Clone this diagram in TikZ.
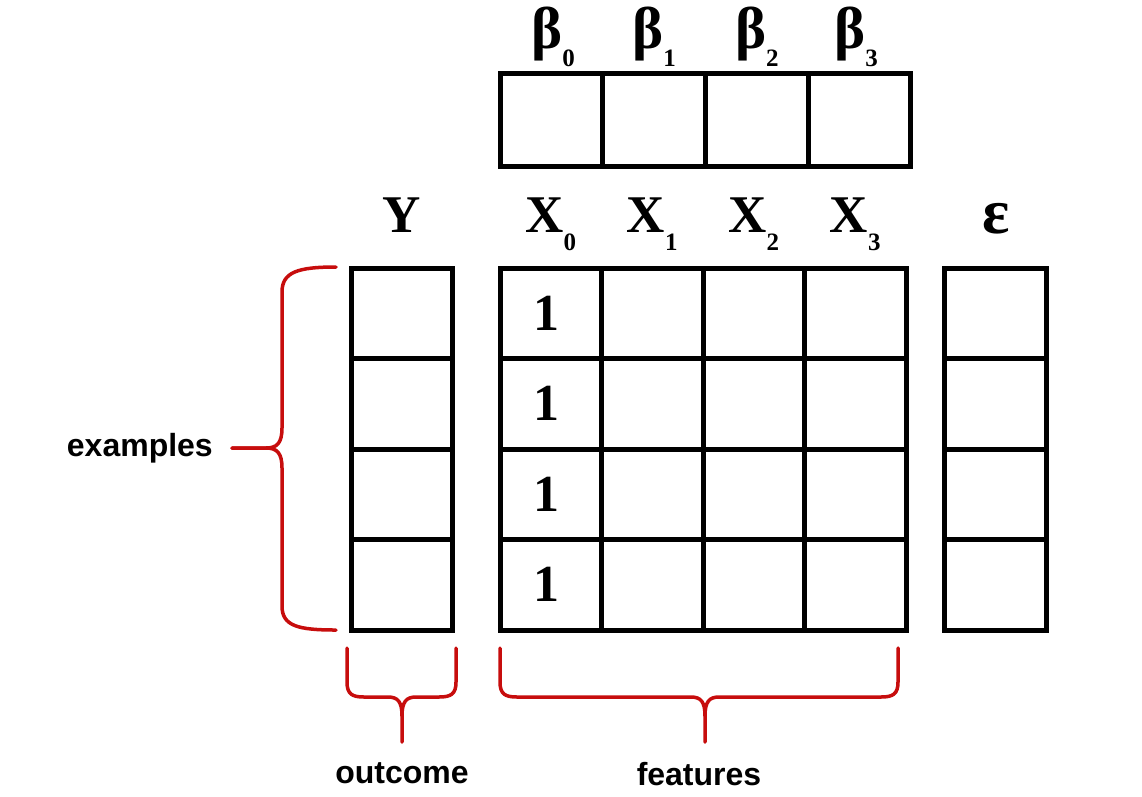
\documentclass[tikz,border=0pt]{standalone}
\usepackage{fontspec}
\setmainfont{Liberation Serif}
\setsansfont{Liberation Sans}
\usetikzlibrary{positioning}
\newcommand{\lowsub}[1]{\raisebox{-18pt}{\fontsize{25}{25}\selectfont #1}}

\begin{document}
\begin{tikzpicture}[x=1pt,y=-1pt,
  cell/.style={draw,line width=5pt,minimum width=101.5pt,minimum height=90.5pt,
    inner sep=0pt,outer sep=0pt,font=\bfseries\fontsize{52}{52}\selectfont},
  bcell/.style={cell,minimum width=102.75pt,minimum height=93pt},
  hdr/.style={anchor=base,inner sep=0pt,font=\bfseries\fontsize{53}{53}\selectfont},
  lbl/.style={inner sep=0pt,font=\sffamily\bfseries\fontsize{32}{32}\selectfont},
  brace/.style={draw=cbr,line width=3.5pt,line cap=round,line join=round}]
%
\useasboundingbox (0,0) rectangle (1142,796);
\fill[white] (0,0) rectangle (1142,796);
%
\definecolor{cbr}{rgb}{0.78,0.05,0.05}
%
% coefficients
\node[bcell] (b0) at (551.4,119.5) {};
\node[bcell] (b1) at (654.1,119.5) {};
\node[bcell] (b2) at (756.9,119.5) {};
\node[bcell] (b3) at (859.6,119.5) {};
\node[hdr,font=\bfseries\fontsize{59}{59}\selectfont] (lb0) at (553,48) {β\lowsub{0}};
\node[hdr,font=\bfseries\fontsize{59}{59}\selectfont] (lb1) at (654.1,48) {β\lowsub{1}};
\node[hdr,font=\bfseries\fontsize{59}{59}\selectfont] (lb2) at (756.9,48) {β\lowsub{2}};
\node[hdr,font=\bfseries\fontsize{59}{59}\selectfont] (lb3) at (856,48) {β\lowsub{3}};
%
% outcome column
\node[cell] (y0) at (402,313.25) {};
\node[cell] (y1) at (402,403.75) {};
\node[cell] (y2) at (402,494.25) {};
\node[cell] (y3) at (402,584.75) {};
\node[hdr] (ly) at (402,232) {Y};
%
% feature matrix
\node[cell] (x00) at (550.75,313.25) {\hspace*{-8pt}1};
\node[cell] (x01) at (652.25,313.25) {};
\node[cell] (x02) at (753.75,313.25) {};
\node[cell] (x03) at (855.25,313.25) {};
\node[cell] (x10) at (550.75,403.75) {\hspace*{-8pt}1};
\node[cell] (x11) at (652.25,403.75) {};
\node[cell] (x12) at (753.75,403.75) {};
\node[cell] (x13) at (855.25,403.75) {};
\node[cell] (x20) at (550.75,494.25) {\hspace*{-8pt}1};
\node[cell] (x21) at (652.25,494.25) {};
\node[cell] (x22) at (753.75,494.25) {};
\node[cell] (x23) at (855.25,494.25) {};
\node[cell] (x30) at (550.75,584.75) {\hspace*{-8pt}1};
\node[cell] (x31) at (652.25,584.75) {};
\node[cell] (x32) at (753.75,584.75) {};
\node[cell] (x33) at (855.25,584.75) {};
\node[hdr] (lx0) at (550.75,232) {X\lowsub{0}};
\node[hdr] (lx1) at (652.25,232) {X\lowsub{1}};
\node[hdr] (lx2) at (753.75,232) {X\lowsub{2}};
\node[hdr] (lx3) at (855.25,232) {X\lowsub{3}};
%
% error column
\node[cell] (e0) at (995.5,313.25) {};
\node[cell] (e1) at (995.5,403.75) {};
\node[cell] (e2) at (995.5,494.25) {};
\node[cell] (e3) at (995.5,584.75) {};
\node[hdr,font=\bfseries\fontsize{64}{64}\selectfont] (le) at (996,233) {ε};
%
% braces
\coordinate (ex) at (232,448);
\coordinate (oc) at (402,742);
\coordinate (fc) at (705,742);
\node[lbl,left=19pt of ex] (examples) {examples};
\node[lbl,below=20pt of oc] (outcome) {outcome};
\node[lbl,below=20pt of fc,xshift=-6pt] (features) {features};
%
\draw[brace] (336,267) .. controls (298,267) and (282,272) .. (282,292) -- (282,428)
  .. controls (282,443) and (277,448) .. (266,448) -- (ex);
\draw[brace] (ex) -- (266,448) .. controls (277,448) and (282,453) .. (282,468) -- (282,606)
  .. controls (282,626) and (298,630) .. (336,630);
%
\draw[brace] (347,648) -- (347,682) .. controls (347,694) and (352,697) .. (364,697) -- (388,697)
  .. controls (398,697) and (402,702) .. (402,716) -- (oc);
\draw[brace] (456,648) -- (456,682) .. controls (456,694) and (451,697) .. (439,697) -- (416,697)
  .. controls (406,697) and (402,702) .. (402,716);
\draw[brace] (500,648) -- (500,682) .. controls (500,694) and (505,697) .. (517,697) -- (691,697)
  .. controls (701,697) and (705,702) .. (705,716) -- (fc);
\draw[brace] (898,648) -- (898,682) .. controls (898,694) and (893,697) .. (881,697) -- (719,697)
  .. controls (709,697) and (705,702) .. (705,716);
%
\end{tikzpicture}
\end{document}
